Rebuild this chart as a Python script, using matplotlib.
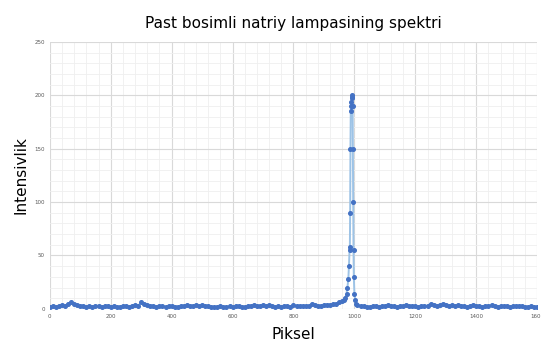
import matplotlib.pyplot as plt
from matplotlib.ticker import MultipleLocator

# Baseline pixel positions and intensities
piksel_fon = list(range(0, 961, 10)) + list(range(1010, 1601, 10))
intensivlik_fon = [2, 3, 2, 3, 4, 3, 5, 6, 5, 4,
                   3, 3, 2, 3, 2, 3, 3, 2, 3, 3,
                   2, 3, 2, 2, 3, 3, 2, 3, 4, 3,
                   6, 5, 4, 3, 3, 2, 3, 3, 2, 3,
                   3, 2, 2, 3, 3, 4, 3, 3, 4, 3,
                   4, 3, 3, 2, 2, 2, 3, 2, 2, 3,
                   2, 3, 3, 2, 2, 3, 3, 4, 3, 3,
                   4, 3, 4, 3, 2, 3, 2, 3, 3, 2,
                   4, 3, 3, 3, 3, 3, 5, 4, 3, 3,
                   4, 4, 4, 5, 5, 6, 7,
                   4, 3, 3, 2, 2, 3, 3, 2, 3, 3,
                   4, 3, 3, 2, 3, 3, 4, 3, 3, 3,
                   2, 3, 3, 3, 5, 4, 3, 4, 5, 4,
                   3, 4, 3, 4, 3, 3, 2, 3, 4, 3,
                   3, 2, 3, 3, 4, 3, 2, 3, 3, 3,
                   2, 3, 3, 3, 3, 2, 2, 3, 2, 2]

# Peak region (sodium D line) read point by point
piksel_pik = [965, 970, 974, 977, 980, 982, 984, 985, 986, 987, 988, 989,
              990, 991, 992, 993, 994, 995, 996, 997, 998, 1000, 1003, 1006]
intensivlik_pik = [8, 10, 14, 20, 28, 40, 55, 58, 90, 150, 185, 190,
                   194, 197, 200, 198, 190, 150, 100, 55, 30, 14, 8, 5]

piksel = sorted(piksel_fon + piksel_pik)
qiymat = dict(zip(piksel_fon, intensivlik_fon))
qiymat.update(zip(piksel_pik, intensivlik_pik))
intensivlik = [qiymat[p] for p in piksel]

fig, ax = plt.subplots(figsize=(5.41, 3.49), dpi=100)
fig.subplots_adjust(left=0.092, right=0.993, top=0.88, bottom=0.115)

ax.plot(piksel, intensivlik, color='#9dc3e6', linewidth=1.4, zorder=2)
ax.plot(piksel, intensivlik, linestyle='none', marker='o', markersize=2.6,
        color='#4472c4', zorder=3)

ax.set_xlim(0, 1600)
ax.set_ylim(0, 250)
ax.xaxis.set_major_locator(MultipleLocator(200))
ax.xaxis.set_minor_locator(MultipleLocator(40))
ax.yaxis.set_major_locator(MultipleLocator(50))
ax.yaxis.set_minor_locator(MultipleLocator(10))
ax.grid(which='major', color='#d9d9d9', linewidth=0.8)
ax.grid(which='minor', color='#efefef', linewidth=0.6)
ax.set_axisbelow(True)

for s in ax.spines.values():
    s.set_visible(False)
ax.tick_params(which='both', length=0, labelsize=4, colors='#595959')

ax.set_title('Past bosimli natriy lampasining spektri', fontsize=11, pad=10)
ax.set_xlabel('Piksel', fontsize=11, labelpad=6)
ax.set_ylabel('Intensivlik', fontsize=11)

plt.savefig('out.png')
